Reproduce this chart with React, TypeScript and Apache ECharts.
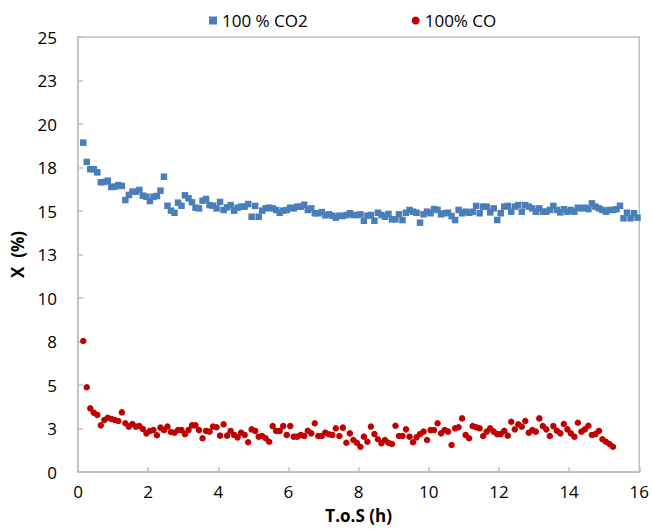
import React, { useEffect, useRef } from "react";
import * as echarts from "echarts";

// Time on stream (h) for every sample
const TIME = [
  0.15, 0.25, 0.35, 0.45, 0.55, 0.65, 0.75, 0.85, 0.95, 1.05,
  1.15, 1.25, 1.35, 1.45, 1.55, 1.65, 1.75, 1.85, 1.95, 2.05,
  2.15, 2.25, 2.35, 2.45, 2.55, 2.65, 2.75, 2.85, 2.95, 3.05,
  3.15, 3.25, 3.35, 3.45, 3.55, 3.65, 3.75, 3.85, 3.95, 4.05,
  4.15, 4.25, 4.35, 4.45, 4.55, 4.65, 4.75, 4.85, 4.95, 5.05,
  5.15, 5.25, 5.35, 5.45, 5.55, 5.65, 5.75, 5.85, 5.95, 6.05,
  6.15, 6.25, 6.35, 6.45, 6.55, 6.65, 6.75, 6.85, 6.95, 7.05,
  7.15, 7.25, 7.35, 7.45, 7.55, 7.65, 7.75, 7.85, 7.95, 8.05,
  8.15, 8.25, 8.35, 8.45, 8.55, 8.65, 8.75, 8.85, 8.95, 9.05,
  9.15, 9.25, 9.35, 9.45, 9.55, 9.65, 9.75, 9.85, 9.95, 10.05,
  10.15, 10.25, 10.35, 10.45, 10.55, 10.65, 10.75, 10.85, 10.95, 11.05,
  11.15, 11.25, 11.35, 11.45, 11.55, 11.65, 11.75, 11.85, 11.95, 12.05,
  12.15, 12.25, 12.35, 12.45, 12.55, 12.65, 12.75, 12.85, 12.95, 13.05,
  13.15, 13.25, 13.35, 13.45, 13.55, 13.65, 13.75, 13.85, 13.95, 14.05,
  14.15, 14.25, 14.35, 14.45, 14.55, 14.65, 14.75, 14.85, 14.95, 15.05,
  15.15, 15.25, 15.35, 15.45, 15.55, 15.65, 15.75, 15.85, 15.95,
];

// X (%) with 100 % CO2 feed
const CO2 = [
  18.93, 17.82, 17.4, 17.4, 17.22, 16.65, 16.67, 16.74, 16.38, 16.4,
  16.49, 16.44, 15.63, 15.92, 16.11, 16.11, 16.21, 15.88, 15.82, 15.57,
  15.82, 15.86, 16.17, 16.97, 15.3, 15.02, 14.9, 15.48, 15.3, 15.9,
  15.73, 15.5, 15.19, 15.15, 15.59, 15.69, 15.34, 15.3, 15.15, 15.52,
  15.06, 15.21, 15.34, 15.02, 15.19, 15.25, 15.25, 15.4, 14.67, 15.29,
  14.67, 15.02, 15.15, 15.19, 15.15, 15.06, 14.9, 15.02, 15.06, 15.19,
  15.15, 15.25, 15.25, 15.36, 15.06, 15.15, 14.87, 14.87, 14.94, 14.75,
  14.81, 14.73, 14.62, 14.73, 14.71, 14.77, 14.87, 14.77, 14.77, 14.81,
  14.44, 14.73, 14.77, 14.44, 14.9, 14.77, 14.67, 14.83, 14.52, 14.52,
  14.81, 14.48, 14.9, 15.06, 14.96, 14.9, 14.33, 14.81, 14.96, 14.87,
  15.11, 15.06, 14.81, 14.87, 14.9, 14.71, 14.48, 15.06, 14.87, 14.96,
  14.9, 14.96, 15.29, 14.87, 15.25, 15.25, 14.92, 15.15, 14.48, 14.87,
  15.25, 15.29, 14.96, 15.25, 15.34, 14.96, 15.34, 15.25, 15.15, 14.96,
  15.15, 14.96, 14.96, 15.06, 15.29, 15.06, 14.92, 15.1, 14.96, 15.06,
  14.96, 15.19, 15.15, 15.19, 15.11, 15.44, 15.25, 15.15, 15.06, 14.96,
  15.06, 15.06, 15.1, 15.3, 14.58, 14.9, 14.58, 14.87, 14.62,
];

// X (%) with 100% CO feed
const CO = [
  7.53, 4.87, 3.66, 3.41, 3.28, 2.68, 2.99, 3.12, 3.05, 2.99,
  2.93, 3.43, 2.8, 2.61, 2.76, 2.61, 2.64, 2.47, 2.22, 2.36,
  2.41, 2.11, 2.55, 2.41, 2.61, 2.3, 2.26, 2.41, 2.41, 2.18,
  2.41, 2.68, 2.68, 2.41, 1.94, 2.36, 2.32, 2.61, 2.57, 2.09,
  2.74, 2.09, 2.36, 2.13, 1.99, 2.26, 2.13, 1.71, 2.45, 2.36,
  2.03, 2.07, 1.94, 1.74, 2.64, 2.36, 2.36, 2.64, 2.13, 2.64,
  2.03, 2.03, 2.13, 2.07, 2.37, 2.22, 2.8, 2.07, 2.07, 2.26,
  2.17, 2.13, 2.51, 2.07, 2.55, 1.68, 2.22, 1.84, 1.68, 1.45,
  2.03, 1.74, 2.61, 2.18, 1.88, 1.65, 1.84, 1.68, 1.61, 2.66,
  2.07, 2.07, 2.45, 2.03, 1.71, 1.99, 2.18, 2.32, 1.84, 2.41,
  2.41, 2.8, 2.22, 2.41, 2.32, 1.55, 2.51, 2.57, 3.08, 2.13,
  1.94, 2.64, 2.57, 2.51, 2.07, 2.32, 2.51, 2.32, 2.18, 2.18,
  2.37, 2.09, 2.89, 2.45, 2.74, 2.61, 2.93, 2.26, 2.41, 2.32,
  3.08, 2.64, 2.45, 2.07, 2.64, 2.37, 2.22, 2.76, 2.45, 2.22,
  2.03, 2.83, 2.32, 2.45, 2.66, 2.13, 2.18, 2.36, 1.88, 1.74,
  1.61, 1.45,
];

const SERIES_NAMES = ["100 % CO2", "100% CO"];
const X_TICKS = { min: 0, max: 16, interval: 2 };
const Y_TICKS = { min: 0, max: 25, interval: 2.5 };

const FONT = "Open Sans";
const GREY = "#BFBFBF";

export default function App() {
  const ref = useRef<HTMLDivElement>(null);

  useEffect(() => {
    if (!ref.current) return;
    const chart = echarts.init(ref.current, undefined, { renderer: "svg" });
    const co2Data = CO2.map((v, i) => [TIME[i], v]);
    const coData = CO.map((v, i) => [TIME[i], v]);

    chart.setOption({
      animation: false,
      backgroundColor: "#ffffff",
      textStyle: { fontFamily: FONT },
      grid: {
        left: 78,
        right: 12,
        top: 37,
        bottom: 57,
        show: true,
        borderColor: GREY,
        borderWidth: 1.5,
      },
      legend: {
        data: SERIES_NAMES,
        top: 7,
        left: 204,
        itemGap: 104,
        itemWidth: 8,
        itemHeight: 8,
        textStyle: { fontFamily: FONT, fontSize: 17, color: "#000" },
      },
      xAxis: {
        type: "value",
        min: X_TICKS.min,
        max: X_TICKS.max,
        interval: X_TICKS.interval,
        name: "T.o.S (h)",
        nameLocation: "middle",
        nameGap: 35,
        nameTextStyle: { fontFamily: FONT, fontWeight: "bold", fontSize: 17, color: "#000" },
        axisLine: { show: true, lineStyle: { color: GREY, width: 1.5 } },
        axisTick: { show: true, inside: true, length: 5, lineStyle: { color: GREY, width: 1.5 } },
        axisLabel: { fontFamily: FONT, fontSize: 17, color: "#000", margin: 11 },
        splitLine: { show: false },
      },
      yAxis: {
        type: "value",
        min: Y_TICKS.min,
        max: Y_TICKS.max,
        interval: Y_TICKS.interval,
        name: "X  (%)",
        nameLocation: "middle",
        nameGap: 52,
        nameTextStyle: { fontFamily: FONT, fontWeight: "bold", fontSize: 17, color: "#000" },
        axisLine: { show: true, lineStyle: { color: GREY, width: 1.5 } },
        axisTick: { show: true, inside: true, length: 5, lineStyle: { color: GREY, width: 1.5 } },
        axisLabel: {
          fontFamily: FONT,
          fontSize: 17,
          color: "#000",
          margin: 21,
          formatter: (v: number) => String(Math.round(v)),
        },
        splitLine: { show: false },
      },
      series: [
        {
          name: SERIES_NAMES[0],
          type: "scatter",
          symbol: "rect",
          symbolSize: 6.5,
          itemStyle: { color: "#4A7EBB", opacity: 1 },
          data: co2Data,
        },
        {
          name: SERIES_NAMES[1],
          type: "scatter",
          symbol: "circle",
          symbolSize: 6.5,
          itemStyle: { color: "#C00000", opacity: 1 },
          data: coData,
        },
      ],
    });

    return () => chart.dispose();
  }, []);

  return (
    <div
      ref={ref}
      style={{ position: "fixed", left: 0, top: 0, width: 652, height: 529, background: "#fff" }}
    />
  );
}
